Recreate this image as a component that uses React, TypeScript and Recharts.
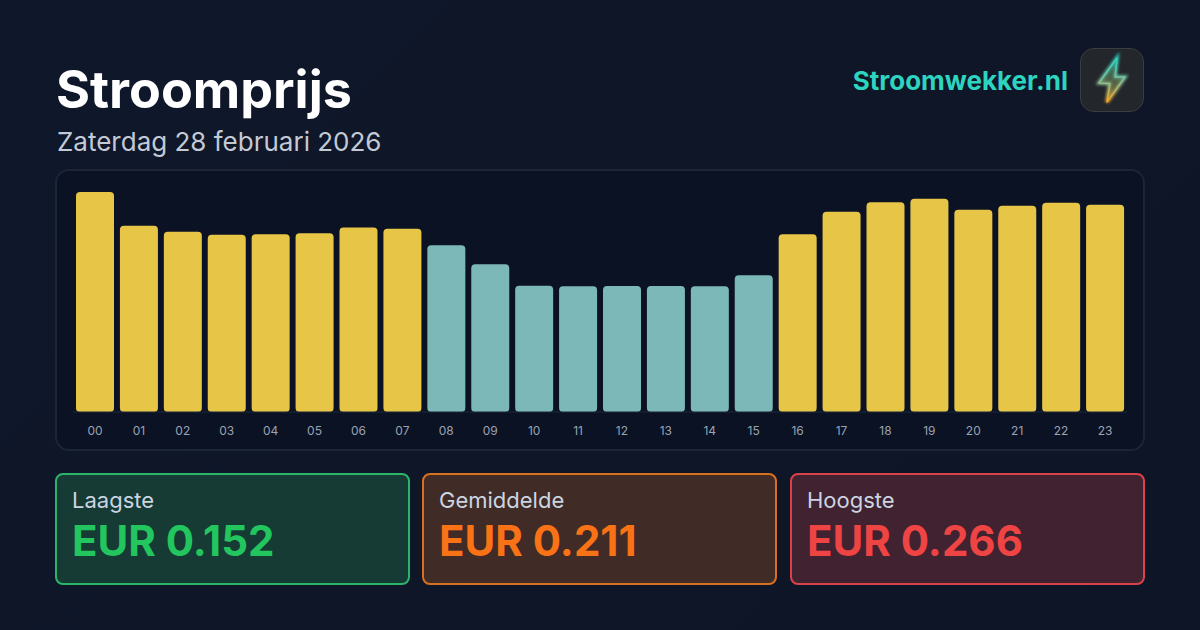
import { BarChart, Bar, XAxis, YAxis, Cell } from 'recharts';

const hours = ['00', '01', '02', '03', '04', '05', '06', '07', '08', '09', '10', '11', '12', '13', '14', '15', '16', '17', '18', '19', '20', '21', '22', '23'];
const prices = [0.266, 0.2253, 0.2178, 0.2142, 0.2148, 0.216, 0.2232, 0.2215, 0.2015, 0.1785, 0.1526, 0.152, 0.1523, 0.1523, 0.152, 0.1652, 0.2148, 0.242, 0.2536, 0.2578, 0.2446, 0.2494, 0.253, 0.2506];
const average = 0.211;
const statLabels = ['Laagste', 'Gemiddelde', 'Hoogste'];
const statValues = ['EUR 0.152', 'EUR 0.211', 'EUR 0.266'];
const statColors = ['#22c55e', '#f97316', '#ef4444'];
const statBorders = ['#2bb56a', '#d9701f', '#d8434a'];
const statFills = ['#163a34', '#412b26', '#412230'];
const statLefts = [55, 422, 790];

const chartData = hours.map((hour, i) => ({ hour, price: prices[i] }));

const FONT = 'Inter, sans-serif';
const BOLT = 'M36 9 L18 34 L29 34.5 L26 53 L44 28 L34 28 Z';

function Logo() {
  return (
    <div style={{ position: 'absolute', left: 1080, top: 48, width: 64, height: 64, boxSizing: 'border-box', borderRadius: 14, background: '#23262b', border: '1px solid #3a3d42' }}>
      <svg width={62} height={62} viewBox="0 0 62 62" style={{ display: 'block' }}>
        <defs>
          <linearGradient id="bolt" x1="0.5" y1="0" x2="0.5" y2="1">
            <stop offset="0%" stopColor="#2dd4bf" />
            <stop offset="50%" stopColor="#7cc3a0" />
            <stop offset="100%" stopColor="#f5a623" />
          </linearGradient>
          <linearGradient id="boltFill" x1="0.5" y1="0" x2="0.5" y2="1">
            <stop offset="0%" stopColor="#1f8f88" />
            <stop offset="100%" stopColor="#b07a2c" />
          </linearGradient>
          <filter id="glow" x="-50%" y="-50%" width="200%" height="200%">
            <feGaussianBlur stdDeviation="1.8" />
          </filter>
        </defs>
        <path d={BOLT} fill="none" stroke="url(#bolt)" strokeWidth={3.5} filter="url(#glow)" />
        <path d={BOLT} fill="url(#boltFill)" fillOpacity={0.6} stroke="url(#bolt)" strokeWidth={1.4} strokeLinejoin="round" />
      </svg>
    </div>
  );
}

export default function App() {
  return (
    <div style={{ position: 'fixed', left: 0, top: 0, width: 1200, height: 630, overflow: 'hidden', fontFamily: FONT, background: 'linear-gradient(135deg, #0f172a 0%, #0d1526 100%)' }}>
      <div style={{ position: 'absolute', left: 56, top: 58, fontSize: 52, lineHeight: '64px', fontWeight: 700, color: '#ffffff' }}>Stroomprijs</div>
      <div style={{ position: 'absolute', left: 57, top: 125, fontSize: 26, lineHeight: '34px', color: '#c3cad6' }}>Zaterdag 28 februari 2026</div>
      <div style={{ position: 'absolute', right: 132, top: 63, fontSize: 26, lineHeight: '36px', fontWeight: 700, color: '#2dd4bf' }}>Stroomwekker.nl</div>
      <Logo />

      <div style={{ position: 'absolute', left: 55, top: 169, width: 1090, height: 282, boxSizing: 'border-box', borderRadius: 14, background: '#0b1223', border: '2px solid #1b2536' }}>
        <BarChart
          width={1086}
          height={278}
          data={chartData}
          margin={{ top: 21, right: 16, bottom: 0, left: 16 }}
          barCategoryGap={3}
        >
          <XAxis
            dataKey="hour"
            interval={0}
            tickLine={false}
            axisLine={{ stroke: '#1e293b', strokeWidth: 1 }}
            tick={{ fill: '#9aa3b2', fontSize: 12, fontFamily: FONT }}
            tickMargin={8}
            height={37}
          />
          <YAxis hide domain={[0, 0.266]} />
          <Bar dataKey="price" barSize={38} radius={[4, 4, 4, 4]} isAnimationActive={false}>
            {chartData.map(d => (
              <Cell key={d.hour} fill={d.price < average ? '#7db8b8' : '#e6c547'} />
            ))}
          </Bar>
        </BarChart>
      </div>

      {statLabels.map((label, i) => (
        <div key={label} style={{ position: 'absolute', left: statLefts[i], top: 473, width: 355, height: 112, boxSizing: 'border-box', borderRadius: 8, background: statFills[i], border: `2px solid ${statBorders[i]}` }}>
          <div style={{ position: 'absolute', left: 15, top: 12, fontSize: 22, lineHeight: '26px', color: '#cbd5e1' }}>{label}</div>
          <div style={{ position: 'absolute', left: 15, top: 40, fontSize: 42, lineHeight: '52px', fontWeight: 700, color: statColors[i] }}>{statValues[i]}</div>
        </div>
      ))}
    </div>
  );
}
